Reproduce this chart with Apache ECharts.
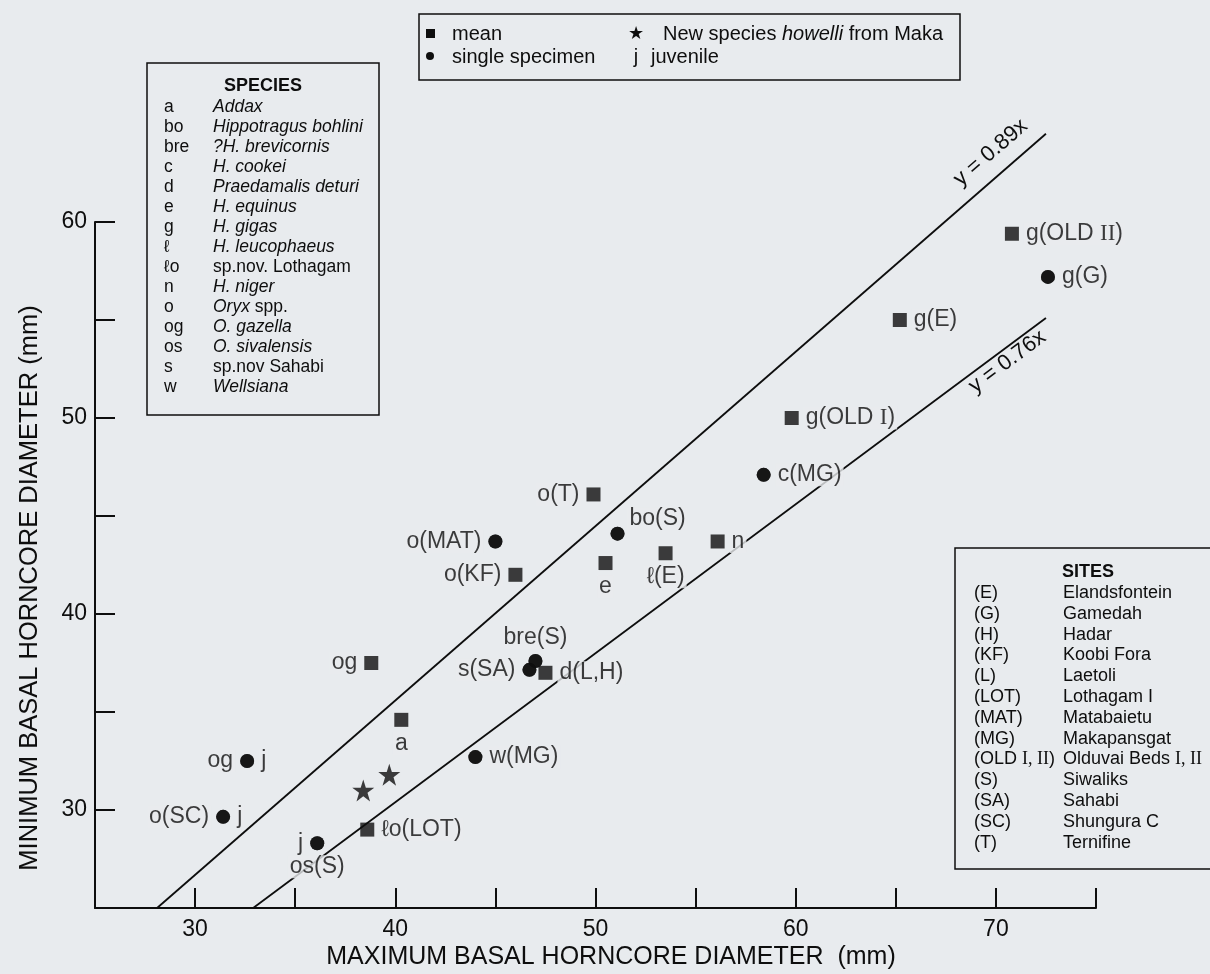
<!DOCTYPE html>
<html><head><meta charset="utf-8">
<script src="https://cdn.jsdelivr.net/npm/echarts@6/dist/echarts.min.js"></script>
<style>html,body{margin:0;padding:0;background:#e8ebee;}#c{width:1210px;height:974px;}</style>
</head><body><div id="c"></div>
<script>
// ---- data ----
const meanLabels = ['g(OLD II)','g(E)','g(OLD I)','o(T)','n','ℓ(E)','e','o(KF)','og','d(L,H)','a','ℓo(LOT)'];
const meanX = [70.8, 65.2, 59.8, 49.9, 56.1, 53.5, 50.5, 46.0, 38.8, 47.5, 40.3, 38.6];
const meanY = [59.4, 55.0, 50.0, 46.1, 43.7, 43.1, 42.6, 42.0, 37.5, 37.0, 34.6, 29.0];

const singleLabels = ['g(G)','c(MG)','bo(S)','o(MAT)','bre(S)','s(SA)','w(MG)','og','o(SC)','j'];
const singleSecond = ['','','','','','','','j','j','os(S)'];
const singleX = [72.6, 58.4, 51.1, 45.0, 47.0, 46.7, 44.0, 32.6, 31.4, 36.1];
const singleY = [57.2, 47.1, 44.1, 43.7, 37.6, 37.15, 32.7, 32.5, 29.65, 28.3];

const howelliX = [38.4, 39.7];
const howelliY = [31.0, 31.8];

const lineNames = ['y = 0.89x', 'y = 0.76x'];
const lineStartX = [28.1, 32.9];
const lineStartY = [25, 25];
const lineEndX = [72.5, 72.5];
const lineEndY = [64.5, 55.1];

const xTicks = [30, 40, 50, 60, 70];
const yTicks = [30, 40, 50, 60];

const speciesCodes = ['a','bo','bre','c','d','e','g','ℓ','ℓo','n','o','og','os','s','w'];
const speciesNames = ['{i|Addax}','{i|Hippotragus bohlini}','{i|?H. brevicornis}','{i|H. cookei}','{i|Praedamalis deturi}','{i|H. equinus}','{i|H. gigas}','{i|H. leucophaeus}','sp.nov. Lothagam','{i|H. niger}','{i|Oryx} spp.','{i|O. gazella}','{i|O. sivalensis}','sp.nov Sahabi','{i|Wellsiana}'];
const siteCodes = ['(E)','(G)','(H)','(KF)','(L)','(LOT)','(MAT)','(MG)','(OLD {r|I, II})','(S)','(SA)','(SC)','(T)'];
const siteNames = ['Elandsfontein','Gamedah','Hadar','Koobi Fora','Laetoli','Lothagam I','Matabaietu','Makapansgat','Olduvai Beds {r|I, II}','Siwaliks','Sahabi','Shungura C','Ternifine'];

// ---- styles ----
const INK = '#0e0e0e';
const BG = '#e8ebee';
const FONT = 'Liberation Sans, Arial, Helvetica, sans-serif';
const SERIF = 'Liberation Serif, Times New Roman, serif';
const STAR = 'path://M50,2 L61,36 L97,36 L68,57 L79,92 L50,71 L21,92 L32,57 L3,36 L39,36 Z';

const place = {
  'g(OLD II)':['right',[0,0]], 'g(E)':['right',[0,0]], 'g(OLD I)':['right',[0,0]], 'o(T)':['left',[0,0]],
  'n':['right',[0,0]], 'ℓ(E)':['bottom',[0,0]], 'e':['bottom',[0,0]], 'o(KF)':['left',[0,0]],
  'og':['left',[0,0]], 'd(L,H)':['right',[0,0]], 'a':['bottom',[0,0]], 'ℓo(LOT)':['right',[0,0]],
  'g(G)':['right',[0,0]], 'c(MG)':['right',[0,0]], 'bo(S)':['right',[-2,-15]], 'o(MAT)':['left',[0,0]],
  'bre(S)':['top',[0,0]], 's(SA)':['left',[0,0]], 'w(MG)':['right',[0,0]], 'o(SC)':['left',[0,0]], 'j':['left',[0,0]]
};
const secondPlace = {'j':['right',[0,0]], 'os(S)':['bottom',[0,0]]};
function fmt(t){ return t.replace('OLD II','OLD {r|II}').replace('OLD I)','OLD {r|I})'); }
const labelRich = { r: { fontFamily: SERIF, fontSize: 23, color: INK } };
const labelBase = { show: true, fontFamily: FONT, fontSize: 23, color: INK, distance: 5,
  backgroundColor: BG, padding: [0, 2], rich: labelRich };

function items(xs, ys, names, placeMap){
  return xs.map((x,i)=>{
    const n = names[i];
    const p = placeMap[n] || ['right',[0,0]];
    return { value:[x, ys[i]], name:n,
      label: Object.assign({}, labelBase, { show: n !== '', position:p[0], offset:p[1], formatter: fmt(n) }) };
  });
}

const chart = echarts.init(document.getElementById('c'), null, {renderer:'canvas'});

function lineSeries(k){
  return { type:'line', name:lineNames[k], clip:false, silent:true, z:1, symbol:'none',
    lineStyle:{ color:INK, width:1.8 },
    data:[[lineStartX[k], lineStartY[k]], [lineEndX[k], lineEndY[k]]] };
}

chart.setOption({
  animation:false,
  backgroundColor: BG,
  grid:{ left:95, right:114, top:222, bottom:66, containLabel:false },
  xAxis:{ type:'value', min:25, max:75, interval:5,
    axisLine:{ onZero:false, lineStyle:{ color:INK, width:2 } },
    axisTick:{ inside:true, length:20, lineStyle:{ color:INK, width:2 } },
    axisLabel:{ color:INK, fontSize:23, fontFamily:FONT, margin:10,
      formatter:v => xTicks.indexOf(v) >= 0 ? String(v) : '' },
    splitLine:{ show:false } },
  yAxis:{ type:'value', min:25, max:60, interval:5,
    axisLine:{ onZero:false, lineStyle:{ color:INK, width:2 } },
    axisTick:{ inside:true, length:20, lineStyle:{ color:INK, width:2 } },
    axisLabel:{ color:INK, fontSize:23, fontFamily:FONT, margin:8,
      formatter:v => yTicks.indexOf(v) >= 0 ? String(v) : '' },
    splitLine:{ show:false } },
  series:[
    lineSeries(0),
    lineSeries(1),
    { name:'mean', type:'scatter', symbol:'rect', symbolSize:14, z:3, clip:false,
      itemStyle:{ color:INK }, data: items(meanX, meanY, meanLabels, place) },
    { name:'single specimen', type:'scatter', symbol:'circle', symbolSize:14, z:3, clip:false,
      itemStyle:{ color:INK }, data: items(singleX, singleY, singleLabels, place) },
    { name:'juvenile note', type:'scatter', symbol:'circle', symbolSize:14, z:2, clip:false,
      itemStyle:{ color:INK }, data: items(singleX, singleY, singleSecond, secondPlace) },
    { name:'howelli', type:'scatter', symbol:STAR, symbolSize:22, z:3, clip:false,
      itemStyle:{ color:INK }, data: howelliX.map((x,i)=>[x, howelliY[i]]) }
  ]
});

const graphic = [];
// axis titles
graphic.push({ type:'text', x:30, y:588, rotation:Math.PI/2,
  style:{ text:'MINIMUM BASAL HORNCORE DIAMETER (mm)', font:'25.5px '+FONT, fill:INK, textAlign:'center', textVerticalAlign:'middle' }});
graphic.push({ type:'text', x:611, y:957,
  style:{ text:'MAXIMUM BASAL HORNCORE DIAMETER  (mm)', font:'25px '+FONT, fill:INK, textAlign:'center', textVerticalAlign:'middle' }});

// regression line labels, placed along each line
const lineLabelAlong = [54, 57];
const lineLabelOffset = [22, -12];
lineNames.forEach((nm,k)=>{
  const p0 = chart.convertToPixel({gridIndex:0}, [lineStartX[k], lineStartY[k]]);
  const p1 = chart.convertToPixel({gridIndex:0}, [lineEndX[k], lineEndY[k]]);
  const dx = p1[0]-p0[0], dy = p1[1]-p0[1];
  const L = Math.sqrt(dx*dx+dy*dy);
  const ux = dx/L, uy = dy/L;
  const nx = uy, ny = -ux;
  const cx = p1[0] - lineLabelAlong[k]*ux + lineLabelOffset[k]*nx;
  const cy = p1[1] - lineLabelAlong[k]*uy + lineLabelOffset[k]*ny;
  graphic.push({ type:'text', x:cx, y:cy, rotation:Math.atan2(-dy, dx), z:5,
    style:{ text:nm, font:'22px '+FONT, fill:INK, textAlign:'center', textVerticalAlign:'middle' }});
});

// top legend box
graphic.push({ type:'rect', shape:{x:419, y:14, width:541, height:66}, style:{fill:BG, stroke:INK, lineWidth:1.5}, z:10 });
graphic.push({ type:'rect', shape:{x:426, y:29, width:9, height:9}, style:{fill:INK}, z:11 });
graphic.push({ type:'circle', shape:{cx:430, cy:56, r:4}, style:{fill:INK}, z:11 });
graphic.push({ type:'text', x:452, y:34, style:{ text:'mean', font:'20px '+FONT, fill:INK, textVerticalAlign:'middle'}, z:11 });
graphic.push({ type:'text', x:452, y:57, style:{ text:'single specimen', font:'20px '+FONT, fill:INK, textVerticalAlign:'middle'}, z:11 });
graphic.push({ type:'text', x:636, y:34, style:{ text:'★', font:'18px DejaVu Sans', fill:INK, textAlign:'center', textVerticalAlign:'middle'}, z:11 });
graphic.push({ type:'text', x:636, y:57, style:{ text:'j', font:'20px '+FONT, fill:INK, textAlign:'center', textVerticalAlign:'middle'}, z:11 });
graphic.push({ type:'text', x:663, y:34, style:{ text:'New species {i|howelli} from Maka', font:'20px '+FONT, fill:INK, textVerticalAlign:'middle',
  rich:{ i:{ fontStyle:'italic', fontFamily:FONT, fontSize:20, fill:INK } } }, z:11 });
graphic.push({ type:'text', x:651, y:57, style:{ text:'juvenile', font:'20px '+FONT, fill:INK, textVerticalAlign:'middle'}, z:11 });

// species box
graphic.push({ type:'rect', shape:{x:147, y:63, width:232, height:352}, style:{fill:BG, stroke:INK, lineWidth:1.5}, z:10 });
graphic.push({ type:'text', x:263, y:86, style:{ text:'SPECIES', font:'bold 18px '+FONT, fill:INK, textAlign:'center', textVerticalAlign:'middle'}, z:11 });
speciesCodes.forEach((c,i)=>{
  graphic.push({ type:'text', x:164, y:107+i*20, style:{ text:c, font:'17.5px '+FONT, fill:INK, textVerticalAlign:'middle'}, z:11 });
  graphic.push({ type:'text', x:213, y:107+i*20, style:{ text:speciesNames[i], font:'17.5px '+FONT, fill:INK, textVerticalAlign:'middle',
    rich:{ i:{ fontStyle:'italic', fontFamily:FONT, fontSize:17.5, fill:INK } } }, z:11 });
});

// sites box
graphic.push({ type:'rect', shape:{x:955, y:548, width:270, height:321}, style:{fill:BG, stroke:INK, lineWidth:1.5}, z:10 });
graphic.push({ type:'text', x:1088, y:572, style:{ text:'SITES', font:'bold 18px '+FONT, fill:INK, textAlign:'center', textVerticalAlign:'middle'}, z:11 });
siteCodes.forEach((c,i)=>{
  const rich = { r:{ fontFamily:SERIF, fontSize:18, fill:INK } };
  graphic.push({ type:'text', x:974, y:593+i*20.8, style:{ text:c, font:'18px '+FONT, fill:INK, textVerticalAlign:'middle', rich }, z:11 });
  graphic.push({ type:'text', x:1063, y:593+i*20.8, style:{ text:siteNames[i], font:'18px '+FONT, fill:INK, textVerticalAlign:'middle', rich }, z:11 });
});

chart.setOption({ graphic: graphic });
</script></body></html>
